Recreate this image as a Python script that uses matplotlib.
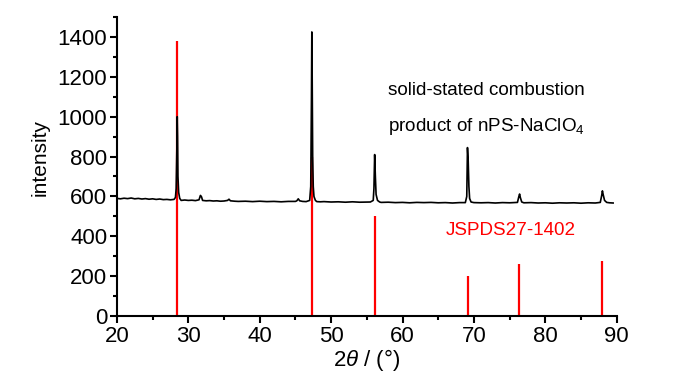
import matplotlib
matplotlib.use("Agg")
import matplotlib.pyplot as plt
from matplotlib.ticker import MultipleLocator

fam = ["Liberation Sans", "DejaVu Sans"]
plt.rcParams['font.family'] = fam
plt.rcParams['mathtext.fontset'] = 'custom'
plt.rcParams['mathtext.it'] = 'Liberation Sans:italic'
plt.rcParams['mathtext.rm'] = 'Liberation Sans'

# measured pattern (2theta, intensity)
pattern_x = [20.0, 20.5, 21.0, 21.5, 22.0, 22.5, 23.0, 23.5, 24.0, 24.5, 25.0, 25.5, 26.0, 26.5, 27.0, 27.5,
             28.0, 28.2, 28.3, 28.4, 28.45, 28.5, 28.55, 28.65, 28.8, 29.0, 29.5, 30.0, 30.5, 31.0, 31.5,
             31.7, 31.85, 32.0, 32.5, 33.0, 33.5, 34.0, 34.5, 35.0, 35.5, 35.7, 35.9, 36.5, 37.0, 38.0,
             39.0, 40.0, 41.0, 42.0, 43.0, 44.0, 45.0, 45.2, 45.4, 45.6, 46.0, 46.5, 47.0, 47.15, 47.25,
             47.3, 47.35, 47.42, 47.5, 47.6, 47.8, 48.0, 48.5, 49.0, 50.0, 51.0, 52.0, 53.0, 54.0, 55.0,
             55.5, 55.9, 56.0, 56.1, 56.2, 56.3, 56.5, 56.8, 57.0, 58.0, 59.0, 60.0, 61.0, 62.0, 63.0,
             64.0, 65.0, 66.0, 67.0, 68.0, 68.8, 69.0, 69.1, 69.2, 69.3, 69.4, 69.6, 70.0, 71.0, 72.0,
             73.0, 74.0, 75.0, 76.1, 76.3, 76.4, 76.5, 76.7, 77.0, 78.0, 79.0, 80.0, 81.0, 82.0, 83.0,
             84.0, 85.0, 86.0, 87.0, 87.7, 87.9, 88.0, 88.1, 88.3, 88.6, 89.0, 89.5]
pattern_y = [590, 588, 591, 589, 592, 588, 590, 587, 589, 586, 588, 585, 587, 584, 585, 583,
             585, 595, 640, 850, 1000, 900, 700, 620, 590, 580, 582, 580, 581, 579, 583,
             605, 598, 580, 578, 579, 577, 578, 576, 577, 580, 586, 578, 576, 575, 576,
             574, 576, 574, 575, 573, 575, 575, 578, 588, 578, 575, 574, 580, 650, 1100,
             1425, 1200, 800, 650, 600, 580, 574, 573, 574, 572, 573, 571, 573, 571, 572,
             572, 580, 640, 810, 700, 610, 580, 572, 570, 571, 569, 570, 568, 570, 569,
             570, 568, 569, 567, 569, 569, 600, 845, 780, 650, 590, 572, 569, 568, 569,
             567, 569, 568, 570, 600, 612, 595, 572, 568, 569, 567, 568, 566, 568, 567,
             568, 566, 568, 567, 570, 605, 628, 610, 580, 570, 568, 567]

# reference card JSPDS27-1402
ref_pos = [28.45, 47.3, 56.13, 69.15, 76.36, 88.0]
ref_int = [1380, 800, 502, 200, 261, 276]

fig = plt.figure(figsize=(7.0, 3.74), dpi=100)
ax = fig.add_axes([0.167, 0.155, 0.714, 0.7995])

ax.vlines(ref_pos, 0, ref_int, colors='#ff0000', linewidth=1.6, zorder=2)
ax.plot(pattern_x, pattern_y, color='black', linewidth=1.2, zorder=3)

ax.set_xlim(20, 90)
ax.set_ylim(0, 1500)
ax.xaxis.set_major_locator(MultipleLocator(10))
ax.xaxis.set_minor_locator(MultipleLocator(5))
ax.yaxis.set_major_locator(MultipleLocator(200))
ax.yaxis.set_minor_locator(MultipleLocator(100))
for s in ['top', 'right']:
    ax.spines[s].set_visible(False)
for s in ['left', 'bottom']:
    ax.spines[s].set_linewidth(1.5)
ax.tick_params(which='major', direction='out', length=5, width=1.5, labelsize=16, pad=2)
ax.tick_params(which='minor', direction='out', length=3, width=1.5)

ax.set_xlabel(r'2$\it{\theta}$ / (°)', fontsize=16, labelpad=0)
ax.set_ylabel('intensity', fontsize=15)
ax.yaxis.set_label_coords(-0.135, 0.53)

ax.text(58.0, 1130, 'solid-stated combustion', fontsize=13.6, va='center', ha='left')
ax.text(58.0, 950, r'product of nPS-NaClO$_4$', fontsize=13.6, va='center', ha='left')
ax.text(66.1, 430, 'JSPDS27-1402', fontsize=13.6, color='#ff0000', va='center', ha='left')

fig.savefig('out.png', dpi=100)
